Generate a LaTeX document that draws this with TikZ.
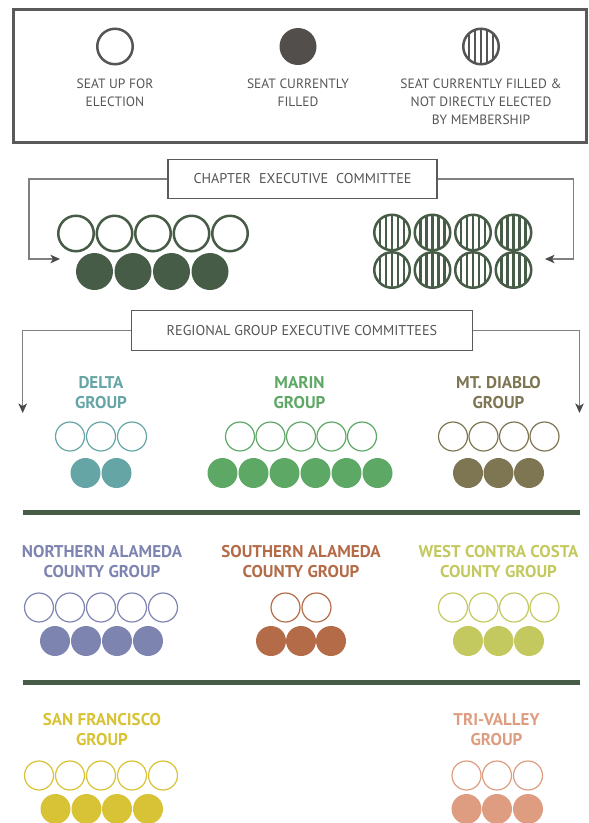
\documentclass[tikz,border=0pt]{standalone}
\usepackage{fontspec}
\setmainfont{PT Sans}
\usetikzlibrary{arrows.meta}
\definecolor{legG}{HTML}{555555}
\definecolor{legF}{HTML}{524E4C}
\definecolor{boxB}{HTML}{5A5A5A}
\definecolor{lineG}{HTML}{808080}
\definecolor{tipG}{HTML}{4A4A4A}
\definecolor{chapG}{HTML}{475C47}
\definecolor{deltaC}{HTML}{66A5A5}
\definecolor{marinC}{HTML}{5EA865}
\definecolor{diabloC}{HTML}{7E7553}
\definecolor{northC}{HTML}{7E84B0}
\definecolor{southC}{HTML}{B46B48}
\definecolor{westC}{HTML}{C3C95F}
\definecolor{sfC}{HTML}{D8C235}
\definecolor{triC}{HTML}{DE9D80}
\tikzset{
  legtext/.style={font=\fontsize{13.5}{18}\selectfont, text=legG, align=center, inner sep=0},
  boxnode/.style={draw=boxB, line width=1.1pt, text=legG, font=\fontsize{14.2}{16}\selectfont, inner sep=0},
  title/.style={font=\bfseries\fontsize{17}{20.5}\selectfont, align=center, inner sep=0},
  seatO/.style={circle, draw, line width=1.2pt, minimum size=29pt, inner sep=0},
  seatF/.style={circle, minimum size=30pt, inner sep=0},
  bigO/.style={circle, draw, line width=2.5pt, minimum size=35.5pt, inner sep=0},
  bigF/.style={circle, minimum size=37pt, inner sep=0},
  striped/.style={circle, draw=#1, line width=2.5pt, minimum size=35.5pt, inner sep=0,
    path picture={\foreach \dx in {-12,-6,0,6,12}
      \draw[line width=2.8pt, #1] ([xshift=\dx pt]path picture bounding box.north) -- ([xshift=\dx pt]path picture bounding box.south);}},
  conn/.style={draw=lineG, line width=1.3pt},
  tipped/.style={-{Stealth[length=9.5pt,width=8.5pt,inset=2.5pt,color=tipG]}},
  rule/.style={draw=chapG, line width=5pt}
}
\begin{document}
\begin{tikzpicture}[x=1pt,y=-1pt]
\useasboundingbox (0,0) rectangle (589,823);
% legend
\node[draw=boxB, line width=3pt, minimum width=573pt, minimum height=133pt, inner sep=0] (legend) at (299.5,75.5) {};
\node[bigO, draw=legG] (legOpen) at (115,46.5) {};
\node[bigF, fill=legF] (legFilled) at (298,46.5) {};
\node[striped=legG] (legStriped) at (481,46.5) {};
\node[legtext] (legOpenT) at (115,93) {SEAT UP FOR\\ELECTION};
\node[legtext] (legFilledT) at (298,93) {SEAT CURRENTLY\\FILLED};
\node[legtext] (legStripedT) at (481,102) {SEAT CURRENTLY FILLED \&\\NOT DIRECTLY ELECTED\\BY MEMBERSHIP};
% chapter
\node[boxnode, minimum width=269pt, minimum height=39pt] (chap) at (302.5,179) {CHAPTER\hspace{8pt}EXECUTIVE\hspace{8pt}COMMITTEE};
\foreach \x [count=\k] in {76,114.5,153,191.5,230}
  \node[bigO, draw=chapG] (chapO\k) at (\x,233.5) {};
\foreach \x [count=\k] in {94.5,133,171.5,210}
  \node[bigF, fill=chapG] (chapF\k) at (\x,271.5) {};
\foreach \x [count=\k] in {392,432.5,473,513.5} {
  \node[striped=chapG] (chapS\k) at (\x,232.5) {};
  \node[striped=chapG] (chapT\k) at (\x,270) {};
}
\coordinate (cLturn) at (29,259);
\coordinate (cLend) at (60,259);
\coordinate (cRturn) at (573.5,259);
\coordinate (cRend) at (545,259);
\draw[conn, tipped] (chap.west) -| (cLturn) -- (cLend);
\draw[conn, tipped] (chap.east) -| (cRturn) -- (cRend);
% regional
\node[boxnode, minimum width=341pt, minimum height=40pt] (reg) at (302,330.5) {REGIONAL GROUP EXECUTIVE COMMITTEES};
\coordinate (rL) at (22.7,413);
\coordinate (rR) at (579.5,413);
\draw[conn, tipped] (reg.west) -| (rL);
\draw[conn, tipped] (reg.east) -| (rR);
% row 1
\node[title, text=deltaC] (deltaT) at (101,392.7) {DELTA\\GROUP};
\foreach \x [count=\k] in {70,101,132} \node[seatO, draw=deltaC] (deltaO\k) at (\x,436.5) {};
\foreach \x [count=\k] in {85.5,116.5} \node[seatF, fill=deltaC] (deltaF\k) at (\x,473) {};
\node[title, text=marinC] (marinT) at (299.5,392.7) {MARIN\\GROUP};
\foreach \x [count=\k] in {240,270.5,301,331.5,362} \node[seatO, draw=marinC] (marinO\k) at (\x,436.5) {};
\foreach \x [count=\k] in {222.5,253.5,284.5,315.5,346.5,377.5} \node[seatF, fill=marinC] (marinF\k) at (\x,473) {};
\node[title, text=diabloC] (diabloT) at (498.5,392.7) {MT. DIABLO\\GROUP};
\foreach \x [count=\k] in {453,483.5,514,544.5} \node[seatO, draw=diabloC] (diabloO\k) at (\x,436.5) {};
\foreach \x [count=\k] in {468,498.5,529} \node[seatF, fill=diabloC] (diabloF\k) at (\x,473) {};
\draw[rule] (22.5,512.5) -- (579.5,512.5);
% row 2
\node[title, text=northC] (northT) at (102,561.5) {NORTHERN ALAMEDA\\COUNTY GROUP};
\foreach \x [count=\k] in {39,70,101,132,163} \node[seatO, draw=northC] (northO\k) at (\x,607.5) {};
\foreach \x [count=\k] in {55,86,117,148} \node[seatF, fill=northC] (northF\k) at (\x,641) {};
\node[title, text=southC] (southT) at (301,561.5) {SOUTHERN ALAMEDA\\COUNTY GROUP};
\foreach \x [count=\k] in {285.5,316.5} \node[seatO, draw=southC] (southO\k) at (\x,607.5) {};
\foreach \x [count=\k] in {271,301,331} \node[seatF, fill=southC] (southF\k) at (\x,641) {};
\node[title, text=westC] (westT) at (498.5,561.5) {WEST CONTRA COSTA\\COUNTY GROUP};
\foreach \x [count=\k] in {453,483.5,514,544.5} \node[seatO, draw=westC] (westO\k) at (\x,607.5) {};
\foreach \x [count=\k] in {468,498.5,529} \node[seatF, fill=westC] (westF\k) at (\x,641) {};
\draw[rule] (22.5,682.5) -- (579.5,682.5);
% row 3
\node[title, text=sfC] (sfT) at (102,729.7) {SAN FRANCISCO\\GROUP};
\foreach \x [count=\k] in {39,70,101,132,163} \node[seatO, draw=sfC] (sfO\k) at (\x,775.5) {};
\foreach \x [count=\k] in {55.5,86.5,117,148} \node[seatF, fill=sfC] (sfF\k) at (\x,809) {};
\node[title, text=triC] (triT) at (496.5,729.7) {TRI-VALLEY\\GROUP};
\foreach \x [count=\k] in {466.5,497,528} \node[seatO, draw=triC] (triO\k) at (\x,775.5) {};
\foreach \x [count=\k] in {466.5,497,528} \node[seatF, fill=triC] (triF\k) at (\x,809) {};
\end{tikzpicture}
\end{document}
